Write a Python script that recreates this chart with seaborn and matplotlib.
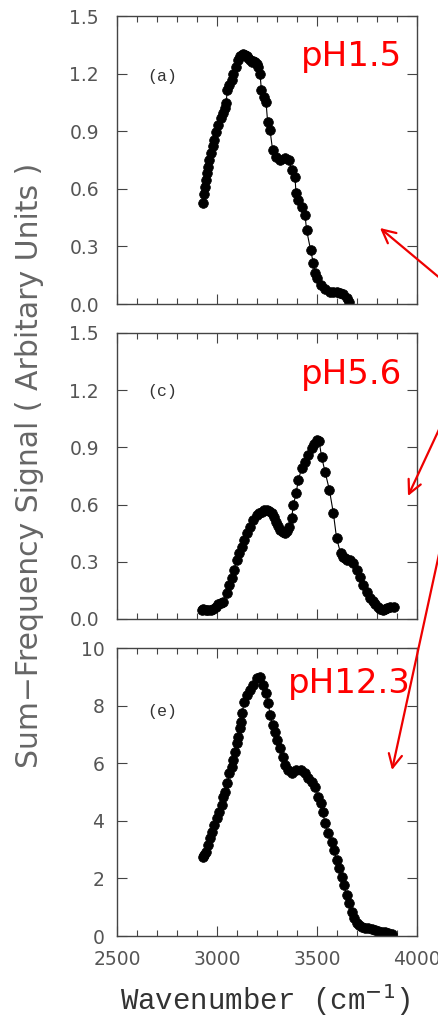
import numpy as np
import pandas as pd
import matplotlib
matplotlib.use('Agg')
import matplotlib.pyplot as plt
from matplotlib.ticker import MultipleLocator, FormatStrFormatter
from matplotlib.patches import FancyArrowPatch
import seaborn as sns

# spectra (wavenumber in cm-1, SFG signal)
ph15_wn = [2928, 2935, 2940, 2945, 2952, 2957, 2962, 2968, 2978, 2985,
           2995, 3007, 3018, 3032, 3040, 3045, 3052, 3062, 3073, 3082,
           3095, 3107, 3115, 3123, 3132, 3140, 3150, 3157, 3165, 3173,
           3182, 3190, 3200, 3207, 3215, 3222, 3235, 3245, 3253, 3265,
           3278, 3295, 3315, 3340, 3360, 3373, 3390, 3395, 3407, 3423,
           3440, 3448, 3468, 3482, 3490, 3498, 3518, 3540, 3565, 3582,
           3598, 3615, 3628, 3648, 3662]
ph15_sig = [0.528, 0.573, 0.611, 0.646, 0.68, 0.715, 0.75, 0.785, 0.823, 0.854,
            0.897, 0.932, 0.967, 0.996, 1.019, 1.045, 1.115, 1.141, 1.167, 1.20,
            1.236, 1.271, 1.29, 1.297, 1.30, 1.297, 1.29, 1.28, 1.27, 1.262,
            1.265, 1.262, 1.25, 1.236, 1.20, 1.115, 1.08, 1.054, 0.95, 0.906,
            0.802, 0.767, 0.75, 0.759, 0.75, 0.698, 0.663, 0.576, 0.542, 0.507,
            0.464, 0.385, 0.281, 0.212, 0.160, 0.134, 0.099, 0.076, 0.064, 0.062,
            0.064, 0.058, 0.052, 0.03, 0.012]

ph56_wn = [2925, 2932, 2945, 2957, 2970, 2982, 2995, 3007, 3020, 3032,
           3048, 3062, 3073, 3085, 3098, 3112, 3123, 3137, 3152, 3165,
           3182, 3198, 3210, 3223, 3235, 3248, 3260, 3273, 3285, 3295,
           3305, 3315, 3328, 3340, 3352, 3362, 3373, 3382, 3395, 3407,
           3423, 3440, 3457, 3473, 3485, 3498, 3510, 3523, 3540, 3562,
           3582, 3598, 3618, 3630, 3640, 3652, 3665, 3682, 3698, 3715,
           3732, 3748, 3765, 3778, 3790, 3803, 3815, 3828, 3840, 3852,
           3865, 3885]
ph56_sig = [0.047, 0.051, 0.049, 0.047, 0.049, 0.051, 0.065, 0.079, 0.085, 0.091,
            0.135, 0.178, 0.213, 0.257, 0.309, 0.345, 0.379, 0.414, 0.449, 0.484,
            0.519, 0.545, 0.555, 0.563, 0.570, 0.572, 0.566, 0.554, 0.535, 0.51,
            0.487, 0.467, 0.455, 0.449, 0.462, 0.484, 0.528, 0.598, 0.659, 0.729,
            0.79, 0.825, 0.86, 0.895, 0.92, 0.939, 0.935, 0.851, 0.773, 0.677,
            0.554, 0.423, 0.345, 0.325, 0.318, 0.312, 0.309, 0.292, 0.257, 0.222,
            0.178, 0.143, 0.108, 0.092, 0.079, 0.063, 0.051, 0.049, 0.051, 0.057,
            0.061, 0.061]

ph123_wn = [2928, 2937, 2945, 2957, 2965, 2973, 2985, 2998, 3012, 3023,
            3032, 3040, 3052, 3062, 3073, 3082, 3090, 3098, 3107, 3115,
            3121, 3126, 3135, 3148, 3165, 3182, 3198, 3215, 3228, 3245,
            3257, 3265, 3278, 3290, 3302, 3315, 3328, 3340, 3357, 3373,
            3395, 3418, 3440, 3457, 3473, 3490, 3507, 3518, 3528, 3540,
            3557, 3573, 3585, 3598, 3612, 3623, 3635, 3648, 3662, 3673,
            3685, 3698, 3710, 3723, 3740, 3757, 3773, 3790, 3807, 3823,
            3840, 3857, 3873]
ph123_sig = [2.75, 2.82, 2.93, 3.16, 3.39, 3.62, 3.85, 4.09, 4.32, 4.55,
             4.84, 5.01, 5.30, 5.65, 5.88, 6.11, 6.40, 6.69, 6.92, 7.21,
             7.44, 7.73, 8.14, 8.37, 8.54, 8.71, 8.95, 9.0, 8.71, 8.43,
             8.08, 7.67, 7.33, 7.09, 6.81, 6.52, 6.23, 5.94, 5.76, 5.65,
             5.76, 5.76, 5.65, 5.47, 5.36, 5.18, 4.84, 4.61, 4.32, 3.91,
             3.56, 3.27, 2.99, 2.64, 2.35, 2.06, 1.77, 1.42, 1.13, 0.84,
             0.61, 0.44, 0.37, 0.32, 0.29, 0.27, 0.24, 0.21, 0.18, 0.15,
             0.13, 0.11, 0.07]

panel_tags = ['(a)', '(c)', '(e)']
ph_labels = ['pH1.5', 'pH5.6', 'pH12.3']
y_ticks = [[0.0, 0.3, 0.6, 0.9, 1.2, 1.5],
           [0.0, 0.3, 0.6, 0.9, 1.2, 1.5],
           [0, 2, 4, 6, 8, 10]]
x_ticks = [2500, 3000, 3500, 4000]

sns.set_style('ticks')
plt.rcParams['font.family'] = ['DejaVu Sans']

fig = plt.figure(figsize=(4.38, 10.18), dpi=100)
W, H = 438.0, 1018.0
# axes boxes in pixels (left, top, right, bottom)
boxes = [(117, 16, 417, 304), (117, 333, 417, 619), (117, 648, 417, 936)]
series = [(ph15_wn, ph15_sig), (ph56_wn, ph56_sig), (ph123_wn, ph123_sig)]
ph_pos = [(0.95, 0.86), (0.95, 0.855), (0.98, 0.875)]
tag_y = [0.79, 0.794, 0.778]

for i, (box, (wn, sig)) in enumerate(zip(boxes, series)):
    l, t, r, b = box
    ax = fig.add_axes([l / W, 1 - b / H, (r - l) / W, (b - t) / H])
    df = pd.DataFrame({'wn': wn, 'sig': sig})
    sns.lineplot(data=df, x='wn', y='sig', ax=ax, color='black', lw=0.8,
                 marker='o', markersize=7, markeredgecolor='black',
                 markeredgewidth=0.5, estimator=None)
    ax.set_xlim(2500, 4000)
    ax.set_ylim(y_ticks[i][0], y_ticks[i][-1])
    ax.set_xticks(x_ticks)
    ax.xaxis.set_minor_locator(MultipleLocator(100))
    ax.set_yticks(y_ticks[i])
    if i < 2:
        ax.yaxis.set_major_formatter(FormatStrFormatter('%.1f'))
        ax.tick_params(axis='y', pad=13)
    else:
        ax.tick_params(axis='y', pad=9)
    ax.tick_params(which='both', direction='in', top=True, right=True,
                   color='#444444', labelcolor='#555555', labelsize=13.5, width=0.8)
    ax.tick_params(which='major', length=7)
    ax.tick_params(which='minor', length=4)
    ax.tick_params(axis='x', pad=10)
    if i < 2:
        ax.tick_params(axis='x', labelbottom=False)
    for sp in ax.spines.values():
        sp.set_color('#444444')
        sp.set_linewidth(1.0)
    ax.set_xlabel('')
    ax.set_ylabel('')
    ax.text(0.1, tag_y[i], panel_tags[i], transform=ax.transAxes,
            fontsize=12, family='Liberation Mono', color='#333333', va='center')
    ax.text(ph_pos[i][0], ph_pos[i][1], ph_labels[i], transform=ax.transAxes,
            fontsize=24.5, color='#ff0000', ha='right', va='center')

fig.text(30 / W, 1 - 465 / H, 'Sum\u2212Frequency Signal ( Arbitary Units )',
         rotation=90, ha='center', va='center', fontsize=21.5, color='#666666')
fig.text(265 / W, 1 - 1000 / H, 'Wavenumber (cm$^{-1}$)', ha='center', va='center',
         fontsize=21, family='Liberation Mono', color='#333333')

# red arrows converging from a point beyond the right edge
origin = (490 / W, 1 - 320 / H)
heads = [(380, 228), (408, 496), (392, 770)]
for hx, hy in heads:
    arr = FancyArrowPatch(origin, (hx / W, 1 - hy / H), transform=fig.transFigure,
                          arrowstyle='->', mutation_scale=24, color='#ee0000',
                          lw=1.6, shrinkA=0, shrinkB=0)
    fig.add_artist(arr)

plt.savefig('out.png', dpi=100)
plt.close()
